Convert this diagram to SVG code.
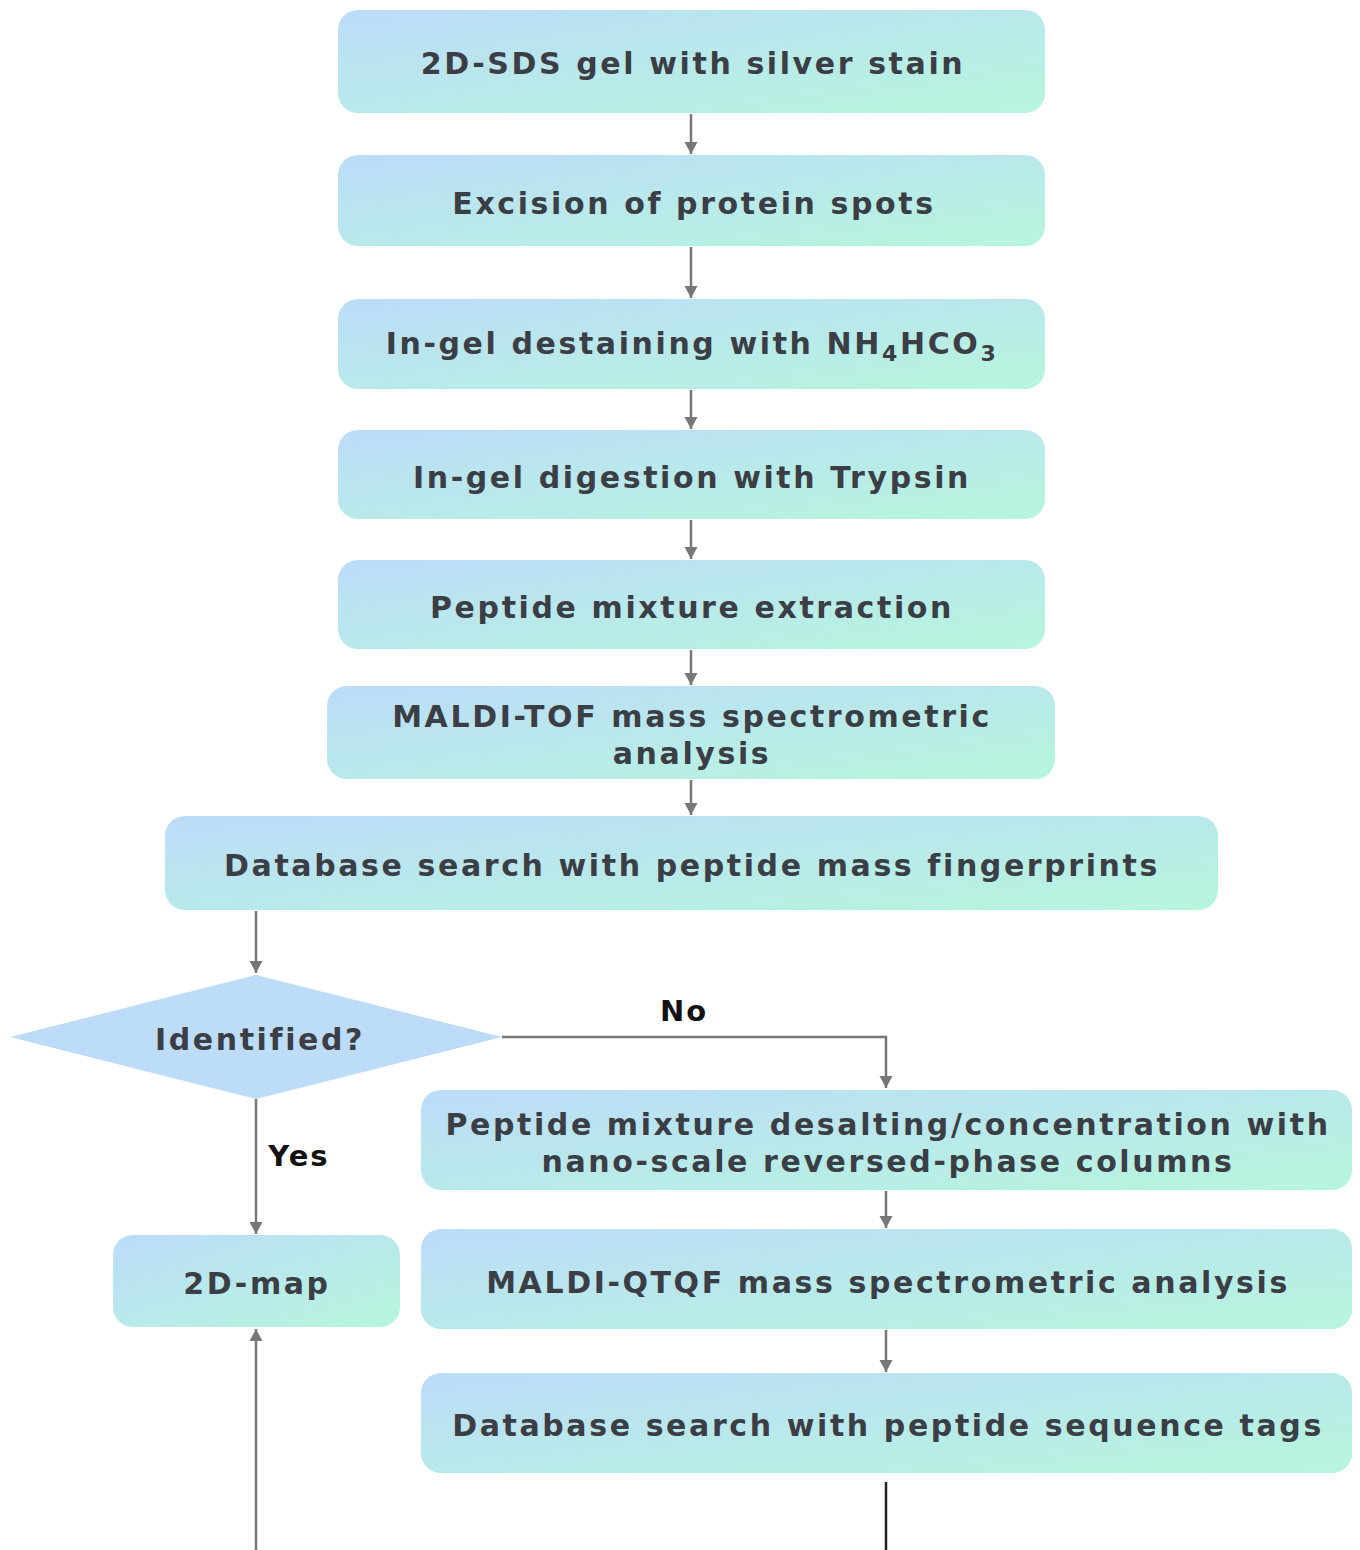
<svg xmlns="http://www.w3.org/2000/svg" width="1360" height="1550" viewBox="0 0 1360 1550">
<defs>
<linearGradient id="g" x1="0" y1="0" x2="1" y2="1">
<stop offset="0" stop-color="#bcdcf9"/>
<stop offset="1" stop-color="#b6f6dc"/>
</linearGradient>
<marker id="ah" viewBox="0 0 12 14" refX="12" refY="7" markerWidth="13" markerHeight="14" markerUnits="userSpaceOnUse" orient="auto">
<path d="M0,0.5 L12,7 L0,13.5 Z" fill="#777"/>
</marker>
<style>
.box{fill:url(#g);}
.t{font-family:"DejaVu Sans",Verdana,sans-serif;font-weight:bold;font-size:30px;fill:#3b3e44;text-anchor:middle;letter-spacing:2.6px;}
.lbl{font-family:"DejaVu Sans",Verdana,sans-serif;font-weight:bold;font-size:29px;fill:#111;text-anchor:middle;letter-spacing:2px;}
.c{stroke:#777;stroke-width:2.5;fill:none;}
.ca{stroke:#777;stroke-width:2.5;fill:none;marker-end:url(#ah);}
</style>
</defs>
<rect width="1360" height="1550" fill="#fff"/>
<g id="connectors">
<line class="ca" x1="691" y1="114" x2="691" y2="154"/>
<line class="ca" x1="691" y1="247" x2="691" y2="298"/>
<line class="ca" x1="691" y1="390" x2="691" y2="429"/>
<line class="ca" x1="691" y1="520" x2="691" y2="559"/>
<line class="ca" x1="691" y1="650" x2="691" y2="685"/>
<line class="ca" x1="691" y1="780" x2="691" y2="815"/>
<line class="ca" x1="256" y1="911" x2="256" y2="973"/>
<polyline class="ca" points="502,1037 886,1037 886,1088"/>
<line class="ca" x1="256" y1="1099" x2="256" y2="1234"/>
<line class="ca" x1="886" y1="1191" x2="886" y2="1228"/>
<line class="ca" x1="886" y1="1330" x2="886" y2="1372"/>
<line class="ca" x1="256" y1="1550" x2="256" y2="1329"/>
<line x1="886" y1="1482" x2="886" y2="1550" stroke="#222" stroke-width="2.5"/>
<text class="lbl" x="684" y="1021">No</text>
<text class="lbl" x="299" y="1166">Yes</text>
</g>
<g id="n1"><rect class="box" x="338" y="10" width="707" height="103" rx="20"/><text class="t" x="693" y="74">2D-SDS gel with silver stain</text></g>
<g id="n2"><rect class="box" x="338" y="155" width="707" height="91" rx="20"/><text class="t" x="694" y="214">Excision of protein spots</text></g>
<g id="n3"><rect class="box" x="338" y="299" width="707" height="90" rx="20"/><text class="t" x="692" y="354">In-gel destaining with NH<tspan font-size="22" dy="7">4</tspan><tspan dy="-7">HCO</tspan><tspan font-size="22" dy="7">3</tspan></text></g>
<g id="n4"><rect class="box" x="338" y="430" width="707" height="89" rx="20"/><text class="t" x="692" y="488">In-gel digestion with Trypsin</text></g>
<g id="n5"><rect class="box" x="338" y="560" width="707" height="89" rx="20"/><text class="t" x="692" y="618">Peptide mixture extraction</text></g>
<g id="n6"><rect class="box" x="327" y="686" width="728" height="93" rx="20"/><text class="t" x="692" y="727">MALDI-TOF mass spectrometric</text><text class="t" x="692" y="764">analysis</text></g>
<g id="n7"><rect class="box" x="165" y="816" width="1053" height="94" rx="20"/><text class="t" x="692" y="876">Database search with peptide mass fingerprints</text></g>
<g id="d1"><polygon points="256,975 502,1037 256,1099 10,1037" fill="#bddcf8"/><text class="t" x="260" y="1050">Identified?</text></g>
<g id="n8"><rect class="box" x="421" y="1090" width="931" height="100" rx="20"/><text class="t" x="888" y="1135">Peptide mixture desalting/concentration with</text><text class="t" x="888" y="1172">nano-scale reversed-phase columns</text></g>
<g id="n9"><rect class="box" x="113" y="1235" width="287" height="92" rx="20"/><text class="t" x="257" y="1294">2D-map</text></g>
<g id="n10"><rect class="box" x="421" y="1229" width="931" height="100" rx="20"/><text class="t" x="888" y="1293">MALDI-QTQF mass spectrometric analysis</text></g>
<g id="n11"><rect class="box" x="421" y="1373" width="931" height="100" rx="20"/><text class="t" x="888" y="1436">Database search with peptide sequence tags</text></g>
</svg>
